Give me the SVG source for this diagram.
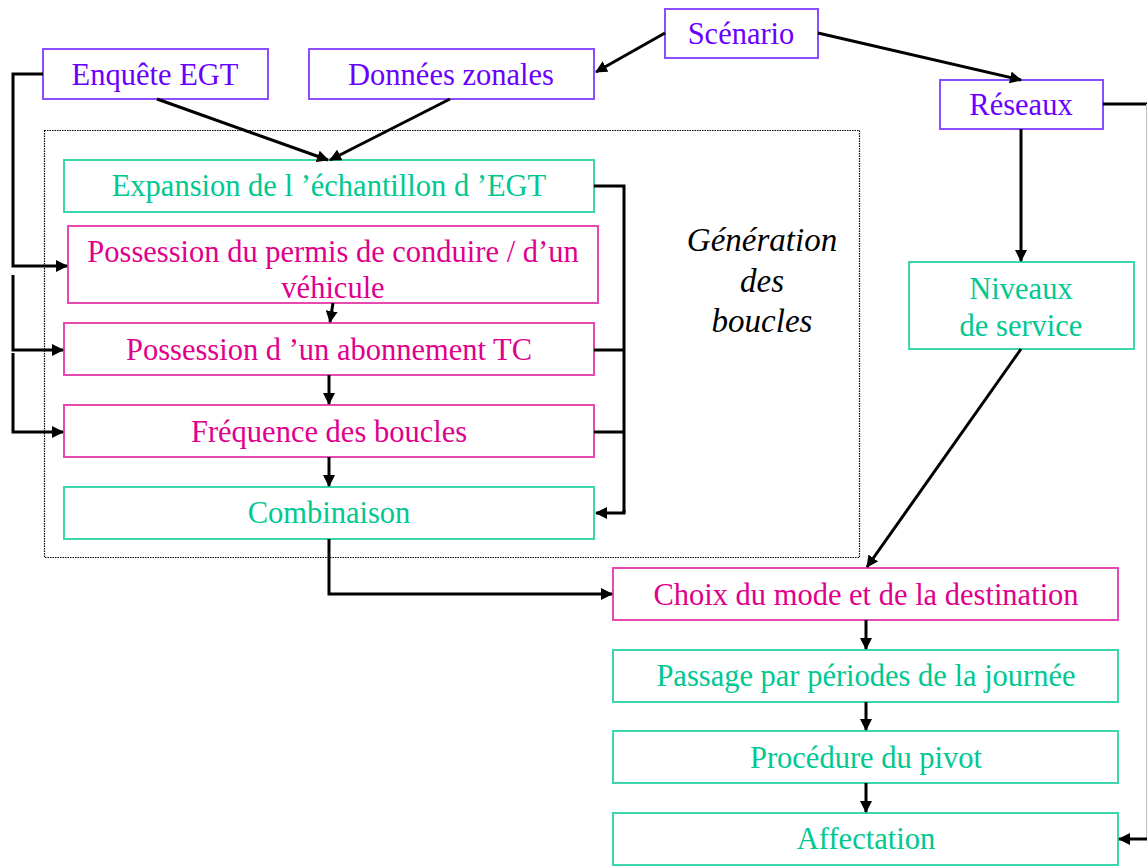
<svg xmlns="http://www.w3.org/2000/svg" width="1147" height="866" viewBox="0 0 1147 866">
<defs>
<marker id="ah" markerWidth="12" markerHeight="12" refX="11" refY="6" orient="auto" markerUnits="userSpaceOnUse">
<path d="M0,0 L12,6 L0,12 Z" fill="#000"/>
</marker>
<style>
text{font-family:"Liberation Serif","Times New Roman",serif;font-size:30.5px;text-anchor:middle}
.p rect{fill:#fff;stroke:#8a4dff;stroke-width:2}
.p text{fill:#6a00ff}
.m rect{fill:#fff;stroke:#e64ab0;stroke-width:2}
.m text{fill:#e0008c}
.t rect{fill:#fff;stroke:#3dd6ac;stroke-width:2}
.t text{fill:#00c890}
.c path,.c line{fill:none;stroke:#000;stroke-width:3}
.a{marker-end:url(#ah)}
.i{font-style:italic;fill:#000;font-size:33px}
</style>
</defs>
<rect width="1147" height="866" fill="#fff"/>
<g id="container">
<rect x="44.5" y="130.5" width="815" height="427" fill="none" stroke="#000" stroke-width="1.2" stroke-dasharray="1.5,1"/>
<text class="i" x="762" y="251">Génération</text>
<text class="i" x="762" y="292">des</text>
<text class="i" x="762" y="332">boucles</text>
</g>
<g id="scenario" class="p"><rect x="665" y="9" width="153" height="49"/><text x="741" y="44">Scénario</text></g>
<g id="enquete" class="p"><rect x="43" y="49" width="225" height="50"/><text x="155" y="85">Enquête EGT</text></g>
<g id="donnees" class="p"><rect x="309" y="49" width="285" height="50"/><text x="451" y="85">Données zonales</text></g>
<g id="reseaux" class="p"><rect x="940" y="80" width="163" height="49"/><text x="1021" y="115">Réseaux</text></g>
<g id="expansion" class="t"><rect x="64" y="160" width="530" height="52"/><text x="329" y="196">Expansion de l ’échantillon d ’EGT</text></g>
<g id="permis" class="m"><rect x="68" y="226" width="530" height="77"/><text x="333" y="262">Possession du permis de conduire / d’un</text><text x="333" y="298">véhicule</text></g>
<g id="abonnement" class="m"><rect x="64" y="323" width="530" height="52"/><text x="329" y="360">Possession d ’un abonnement TC</text></g>
<g id="frequence" class="m"><rect x="64" y="405" width="530" height="52"/><text x="329" y="442">Fréquence des boucles</text></g>
<g id="combinaison" class="t"><rect x="64" y="487" width="530" height="52"/><text x="329" y="523">Combinaison</text></g>
<g id="niveaux" class="t"><rect x="909" y="262" width="225" height="87"/><text x="1021" y="299">Niveaux</text><text x="1021" y="336">de service</text></g>
<g id="choix" class="m"><rect x="613" y="568" width="505" height="52"/><text x="866" y="605">Choix du mode et de la destination</text></g>
<g id="passage" class="t"><rect x="613" y="650" width="505" height="52"/><text x="866" y="686">Passage par périodes de la journée</text></g>
<g id="pivot" class="t"><rect x="613" y="731" width="505" height="52"/><text x="866" y="768">Procédure du pivot</text></g>
<g id="affectation" class="t"><rect x="613" y="813" width="505" height="52"/><text x="866" y="849">Affectation</text></g>
<g id="connectors" class="c">
<line class="a" x1="665" y1="33" x2="596" y2="72"/>
<line class="a" x1="818" y1="33" x2="1021" y2="80"/>
<line class="a" x1="157" y1="99" x2="328" y2="160"/>
<line class="a" x1="450" y1="99" x2="330" y2="160"/>
<path class="a" d="M43,74 H13 V266 H67"/>
<path class="a" d="M13,275 V350 H63"/>
<path class="a" d="M13,353 V432 H63"/>
<path d="M594,186 H624 V513"/>
<line x1="594" y1="350" x2="624" y2="350"/>
<line x1="594" y1="432" x2="624" y2="432"/>
<path class="a" d="M624,510 V513 H596"/>
<line class="a" x1="333" y1="303" x2="330" y2="322"/>
<line class="a" x1="329" y1="375" x2="329" y2="404"/>
<line class="a" x1="329" y1="457" x2="329" y2="486"/>
<path class="a" d="M329,539 V594 H612"/>
<line class="a" x1="1021" y1="129" x2="1021" y2="261"/>
<line class="a" x1="1021" y1="349" x2="867" y2="567"/>
<line class="a" x1="866" y1="620" x2="866" y2="649"/>
<line class="a" x1="866" y1="702" x2="866" y2="730"/>
<line class="a" x1="866" y1="783" x2="866" y2="812"/>
<line x1="1103" y1="104" x2="1147" y2="104"/>
<line x1="1146.5" y1="104" x2="1146.5" y2="839" style="stroke:#c0c0c0;stroke-width:1"/>
<line class="a" x1="1147" y1="839" x2="1119" y2="839"/>
</g>
</svg>
